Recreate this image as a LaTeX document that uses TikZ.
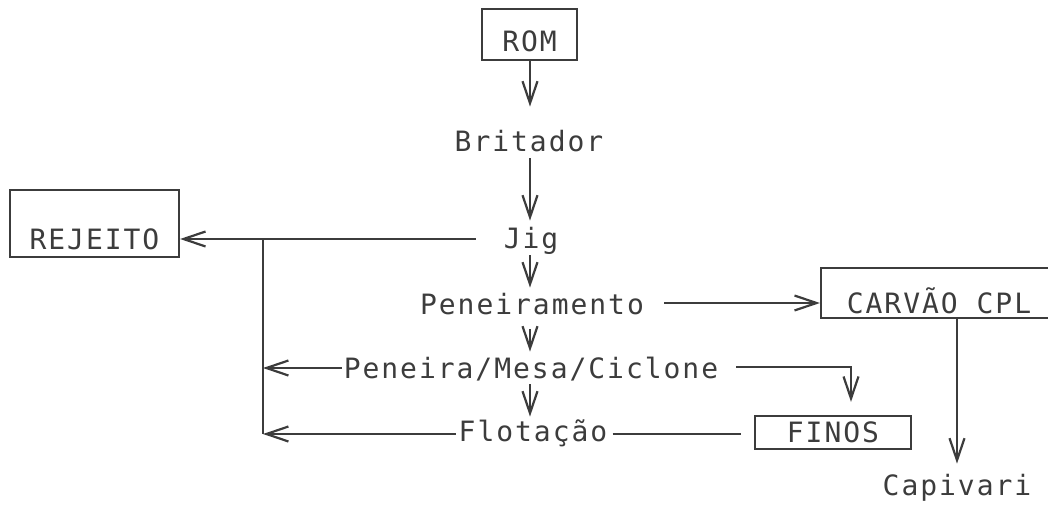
\documentclass[tikz,border=0pt]{standalone}
\usepackage{fontspec}
\usetikzlibrary{arrows.meta,calc}
\newfontfamily\plotfont[LetterSpace=7]{DejaVu Sans Mono}
\definecolor{ink}{HTML}{3C3C3C}
\tikzset{
  lbl/.style={font=\plotfont\fontsize{28}{30}\selectfont, text=ink, inner sep=0pt, text height=20.4pt, text depth=0pt},
  boxnode/.style={lbl, draw=ink, line width=2.2pt},
  flow/.style={draw=ink, line width=2.2pt, -{Straight Barb[length=22pt,width=15pt,line width=2.2pt]}},
  plain/.style={draw=ink, line width=2.2pt},
}
\begin{document}
\begin{tikzpicture}[x=1pt,y=-1pt]
\useasboundingbox (0,0) rectangle (1048,516);
\clip (0,0) rectangle (1048,516);
% boxes
\node[boxnode, minimum width=95pt, minimum height=51pt, text height=33.4pt] (rom) at (529.5,34.5) {ROM};
\node[boxnode, minimum width=169pt, minimum height=67pt, text height=51.4pt] (rej) at (94.5,223.5) {REJEITO};
\node[boxnode, minimum width=236pt, minimum height=50pt, text height=40.4pt] (carv) at (939,293) {CARVÃO CPL};
\node[boxnode, minimum width=156pt, minimum height=33pt] (finos) at (833,432.5) {FINOS};
% labels
\node[lbl] (brit) at (529,141) {Britador};
\node[lbl] (jig) at (531,238) {Jig};
\node[lbl] (pen) at (532,304) {Peneiramento};
\node[lbl] (pmc) at (531,368) {Peneira/Mesa/Ciclone};
\node[lbl] (flot) at (533,431) {Flotação};
\node[lbl] (capi) at (957,485) {Capivari};
% junctions
\coordinate (j1) at (263,239);
\coordinate (j2) at (263,434);
\coordinate (fk) at (851,367);
% vertical main flow
\draw[flow, shorten >=24pt] (rom.south -| 530,0) -- (brit.north -| 530,0);
\draw[flow, shorten <=7pt, shorten >=7pt] (brit.south -| 530,0) -- (jig.north -| 530,0);
\draw[flow, shorten <=7pt, shorten >=6pt] (jig.south -| 530,0) -- (pen.north -| 530,0);
\draw[flow, shorten <=15pt, shorten >=6pt] (pen.south -| 530,0) -- (pmc.north -| 530,0);
\draw[flow, shorten <=6pt, shorten >=4pt] (pmc.south -| 530,0) -- (flot.north -| 530,0);
% to rejeito
\draw[flow, shorten <=28pt] (jig.west |- j1) -- (j1 -| rej.east);
\draw[plain] (j1) -- (j2);
\draw[flow, shorten <=2pt] (pmc.west) -- (pmc.west -| j1);
\draw[flow, shorten <=3pt] (flot.west |- j2) -- (j2);
% to carvao
\draw[flow, shorten <=20pt] (pen.east |- 0,303) -- (carv.west |- 0,303);
\draw[flow, shorten >=11pt] (capi |- carv.south) -- (capi.north);
% to finos
\draw[flow, shorten <=18pt, shorten >=13pt] (pmc.east |- fk) -- (fk) -- (fk |- finos.north);
\draw[plain, shorten <=5pt, shorten >=13pt] (flot.east |- 0,434) -- (finos.west |- 0,434);
\end{tikzpicture}
\end{document}
